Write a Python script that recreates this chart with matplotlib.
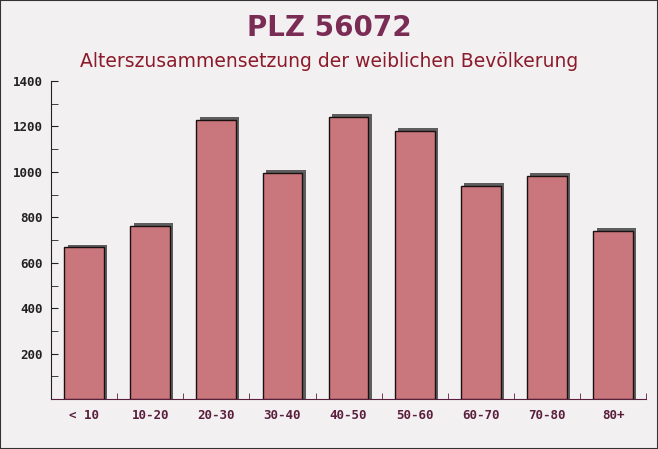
import matplotlib.pyplot as plt
from matplotlib.ticker import MultipleLocator, FixedLocator

categories = ["< 10", "10-20", "20-30", "30-40", "40-50", "50-60", "60-70", "70-80", "80+"]
values = [668, 762, 1228, 995, 1242, 1180, 938, 982, 740]

title = "PLZ 56072"
subtitle = "Alterszusammensetzung der weiblichen Bevölkerung"

fig = plt.figure(figsize=(6.58, 4.49), dpi=100, facecolor="#f3f0f2")
ax = fig.add_axes([0.0775, 0.111, 0.9045, 0.7086])
ax.set_facecolor("none")

x = list(range(len(categories)))
width = 0.6

# schatten
ax.bar([i + 0.05 for i in x], [v + 12 for v in values], width=width,
       color="#5e5e5e", zorder=2)
ax.bar(x, values, width=width, color="#c9777c", edgecolor="#1a1010",
       linewidth=1.0, zorder=3)

ax.set_xlim(-0.5, len(categories) - 0.5)
ax.set_ylim(0, 1400)
ax.set_xticks(x)
ax.set_xticklabels(categories)
ax.xaxis.set_minor_locator(FixedLocator([i + 0.5 for i in x]))
ax.yaxis.set_major_locator(MultipleLocator(200))
ax.yaxis.set_minor_locator(MultipleLocator(100))
ax.set_yticks(range(200, 1401, 200))

for s in ["top", "right"]:
    ax.spines[s].set_visible(False)
ax.spines["left"].set_color("#222222")
ax.spines["bottom"].set_color("#5a1f3c")

ax.tick_params(axis="y", which="both", direction="in", length=5, color="#222222",
               labelsize=9, labelcolor="#222222", pad=6)
ax.tick_params(axis="x", which="major", length=0, labelsize=9,
               labelcolor="#5a1f3c", pad=7)
ax.tick_params(axis="x", which="minor", direction="in", length=4, color="#5a1f3c")
for lab in ax.get_xticklabels() + ax.get_yticklabels():
    lab.set_fontfamily("DejaVu Sans Mono")
    lab.set_fontweight("bold")

fig.text(0.5, 0.937, title, ha="center", va="center", fontsize=20,
         fontweight="bold", color="#7a2c55", family="DejaVu Sans")
fig.text(0.5, 0.862, subtitle, ha="center", va="center", fontsize=13.5,
         color="#8b1a2a", family="DejaVu Sans")

fig.patches.append(plt.Rectangle((0, 0), 1, 1, transform=fig.transFigure,
                                 fill=False, edgecolor="#333333", linewidth=1.5))

fig.savefig("out.png", dpi=100, facecolor=fig.get_facecolor())
